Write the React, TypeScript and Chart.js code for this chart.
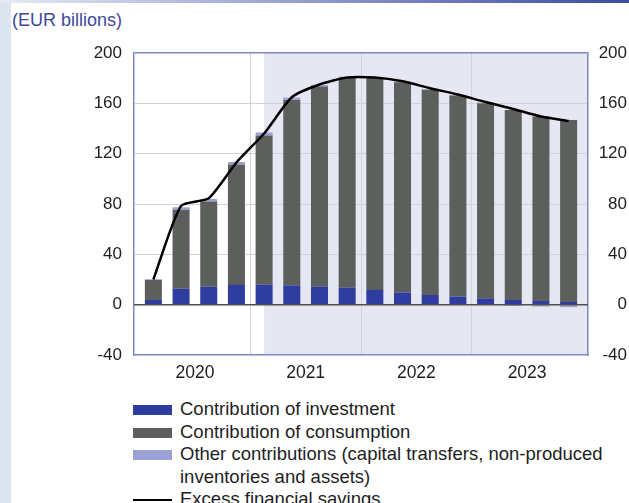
import React, { useEffect, useRef } from 'react';
import { Chart, registerables } from 'chart.js';
Chart.register(...registerables);

const quarters = [
  '2020Q1', '2020Q2', '2020Q3', '2020Q4',
  '2021Q1', '2021Q2', '2021Q3', '2021Q4',
  '2022Q1', '2022Q2', '2022Q3', '2022Q4',
  '2023Q1', '2023Q2', '2023Q3', '2023Q4',
];
const yearLabels = ['2020', '2021', '2022', '2023'];
const investment = [3.7, 12.7, 14.3, 15.7, 15.9, 15.4, 14.3, 13.5, 11.7, 9.8, 7.7, 6.6, 5.0, 3.7, 2.9, 2.1];
const consumption = [16.0, 62.7, 67.7, 95.7, 118.5, 147.3, 159.0, 166.9, 168.5, 167.0, 163.0, 159.6, 155.1, 151.1, 146.6, 144.7];
const otherContrib = [0.5, 2.0, 2.0, 2.0, 2.4, 1.8, 1.3, 0.8, 0.5, 0.5, 0.5, 0.5, 0.5, -1.0, -1.5, -2.0];
const excessSavings = [20, 78.5, 84.6, 113, 136, 164.8, 175, 180.5, 180.5, 177.5, 172, 167, 161, 155.5, 149.5, 146];
const yMin = -40;
const yMax = 200;
const yStep = 40;
const projectionStartIndex = 4;

const legendLabels = [
  'Contribution of investment',
  'Contribution of consumption',
  'Other contributions (capital transfers, non-produced inventories and assets)',
  'Excess financial savings',
];

const COLORS = {
  investment: '#2f3e9e',
  consumption: '#5d5f5c',
  other: '#9ca1d5',
  line: '#000000',
  frame: '#7f88c6',
  grid: '#d2d2dc',
  shade: '#e7e7f3',
  zero: '#4f4f4f',
  text: '#1e1e1e',
};
const FONT = "'Liberation Sans', Arial, Helvetica, sans-serif";

export default function App() {
  const ref = useRef<HTMLCanvasElement>(null);

  useEffect(() => {
    const canvas = ref.current!;
    const idx = quarters.map((_, i) => i);
    const yearCenters = yearLabels.map((y) => {
      const is = idx.filter((i) => quarters[i].startsWith(y));
      return (is[0] + is[is.length - 1]) / 2;
    });
    const yearBounds = yearLabels.slice(1).map((y) => (idx.find((i) => quarters[i].startsWith(y)) as number) - 0.5);
    const xTicks = [...yearCenters, ...yearBounds].sort((a, b) => a - b);

    const shade = {
      id: 'shade',
      beforeDraw(chart: any) {
        const { ctx, chartArea, scales } = chart;
        const x0 = scales.x.getPixelForValue(projectionStartIndex);
        ctx.save();
        ctx.fillStyle = COLORS.shade;
        ctx.fillRect(x0, chartArea.top, chartArea.right - x0, chartArea.bottom - chartArea.top);
        ctx.restore();
      },
    };
    const zeroLine = {
      id: 'zeroLine',
      afterDatasetsDraw(chart: any) {
        const { ctx, chartArea, scales } = chart;
        const y = scales.y.getPixelForValue(0);
        ctx.save();
        ctx.strokeStyle = COLORS.zero;
        ctx.lineWidth = 1.5;
        ctx.beginPath();
        ctx.moveTo(chartArea.left, y);
        ctx.lineTo(chartArea.right, y);
        ctx.stroke();
        ctx.restore();
      },
    };

    const pts = (arr: number[]) => arr.map((v, i) => ({ x: i, y: v }));
    const tickFont = { family: FONT, size: 17 };

    const chart = new Chart(canvas, {
      type: 'bar',
      data: {
        datasets: [
          {
            type: 'line',
            label: legendLabels[3],
            data: pts(excessSavings),
            borderColor: COLORS.line,
            borderWidth: 2.5,
            pointRadius: 0,
            tension: 0.2,
            order: 0,
            stack: 'line',
          } as any,
          { label: legendLabels[0], data: pts(investment), backgroundColor: COLORS.investment, order: 1, stack: 'bars' },
          { label: legendLabels[1], data: pts(consumption), backgroundColor: COLORS.consumption, order: 1, stack: 'bars' },
          { label: legendLabels[2], data: pts(otherContrib), backgroundColor: COLORS.other, order: 1, stack: 'bars' },
        ],
      },
      options: {
        animation: false,
        responsive: false,
        devicePixelRatio: 1,
        layout: { padding: { left: 0, right: 2, top: 53, bottom: 0 } },
        datasets: { bar: { categoryPercentage: 1, barPercentage: 0.615 } } as any,
        plugins: { legend: { display: false }, tooltip: { enabled: false } },
        scales: {
          x: {
            type: 'linear',
            min: -0.7,
            max: 15.7,
            offset: false,
            stacked: true,
            afterBuildTicks: (s: any) => {
              s.ticks = xTicks.map((v) => ({ value: v }));
            },
            afterFit: (s: any) => {
              s.height = 35;
            },
            ticks: {
              autoSkip: false,
              maxRotation: 0,
              padding: 8,
              font: { family: FONT, size: 17.5 },
              color: COLORS.text,
              callback: (v: any) => {
                const k = yearCenters.indexOf(Number(v));
                return k >= 0 ? yearLabels[k] : '';
              },
            },
            grid: {
              offset: false,
              drawTicks: false,
              color: (c: any) => (c.tick && yearBounds.includes(c.tick.value) ? COLORS.grid : 'rgba(0,0,0,0)'),
            },
            border: { color: COLORS.frame, width: 1.5 },
          } as any,
          y: {
            type: 'linear',
            position: 'left',
            min: yMin,
            max: yMax,
            stacked: true,
            afterFit: (s: any) => {
              s.width = 134;
            },
            ticks: { stepSize: yStep, padding: 12, font: tickFont, color: COLORS.text },
            grid: {
              drawTicks: false,
              color: (c: any) =>
                c.tick && c.tick.value === yMax ? COLORS.frame : c.tick && (c.tick.value === 0 || c.tick.value === yMin) ? 'rgba(0,0,0,0)' : COLORS.grid,
              lineWidth: (c: any) => (c.tick && c.tick.value === yMax ? 1.5 : 1),
            },
            border: { color: COLORS.frame, width: 1.5 },
          } as any,
          y2: {
            type: 'linear',
            position: 'right',
            min: yMin,
            max: yMax,
            afterFit: (s: any) => {
              s.width = 39;
            },
            ticks: { stepSize: yStep, padding: 9, font: tickFont, color: COLORS.text, crossAlign: 'far' },
            grid: { drawOnChartArea: false, drawTicks: false },
            border: { color: COLORS.frame, width: 1.5 },
          } as any,
        },
      },
      plugins: [shade, zeroLine],
    });
    return () => chart.destroy();
  }, []);

  const legendColors = [COLORS.investment, COLORS.consumption, COLORS.other];

  return (
    <div
      style={{
        position: 'absolute',
        left: 0,
        top: 0,
        width: 629,
        height: 503,
        overflow: 'hidden',
        background: '#ffffff',
        fontFamily: FONT,
      }}
    >
      <div style={{ position: 'absolute', left: 0, top: 0, width: 11, height: 503, background: '#dde5f0' }} />
      <div
        style={{
          position: 'absolute',
          left: 0,
          top: 0,
          width: 629,
          height: 3,
          background: 'linear-gradient(to right, #e6ebf5 0%, #8f9acc 50%, #3c4c9f 100%)',
        }}
      />
      <div
        style={{
          position: 'absolute',
          left: 12,
          top: 9,
          fontSize: 18,
          lineHeight: '22px',
          color: '#41479a',
        }}
      >
        (EUR billions)
      </div>
      <canvas ref={ref} width={629} height={390} style={{ position: 'absolute', left: 0, top: 0, width: 629, height: 390 }} />
      <div style={{ position: 'absolute', left: 133, top: 398, width: 495, fontSize: 18.5, lineHeight: '22.5px', color: COLORS.text }}>
        {legendLabels.map((lab, i) => (
          <div key={lab} style={{ display: 'flex', alignItems: 'flex-start' }}>
            {i < 3 ? (
              <div style={{ width: 39, height: 10, marginTop: 7, background: legendColors[i], flex: 'none' }} />
            ) : (
              <div style={{ width: 39, height: 2, marginTop: 11, background: COLORS.line, flex: 'none' }} />
            )}
            <div style={{ marginLeft: 8, width: 445 }}>{lab}</div>
          </div>
        ))}
      </div>
    </div>
  );
}
